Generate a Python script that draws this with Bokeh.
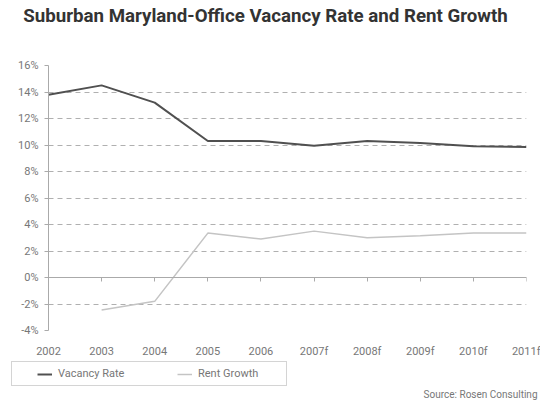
from bokeh.plotting import figure
from bokeh.layouts import column
from bokeh.models import (FixedTicker, LinearAxis, Legend, Label, Range1d, ColumnDataSource)
from bokeh.embed import file_html
from bokeh.resources import INLINE

# ---- data ----
years = ["2002", "2003", "2004", "2005", "2006", "2007f", "2008f", "2009f", "2010f", "2011f"]
vacancy_rate = [13.8, 14.5, 13.2, 10.3, 10.3, 9.95, 10.3, 10.15, 9.9, 9.85]
rent_growth = [float("nan"), -2.45, -1.8, 3.35, 2.9, 3.5, 3.0, 3.15, 3.35, 3.35]
y_ticks = [-4, -2, 0, 2, 4, 6, 8, 10, 12, 14, 16]
series_names = ["Vacancy Rate", "Rent Growth"]
series_colors = ["#505050", "#c4c4c4"]
series_widths = [2, 1.5]
title_text = "Suburban Maryland-Office Vacancy Rate and Rent Growth"
source_text = "Source: Rosen Consulting"

FONT = "Roboto"
W = 540
LEFT, RIGHT = 48, 14
idx = list(range(len(years)))
src = ColumnDataSource(dict(x=idx, vac=vacancy_rate, rent=rent_growth))


def blank_panel(h):
    # strip whose data coordinates equal page pixels (frame = whole strip)
    f = figure(width=W, height=h, output_backend="svg", toolbar_location=None,
               x_range=Range1d(0, W), y_range=Range1d(h, 0),
               x_axis_type=None, y_axis_type=None, frame_align=False,
               min_border_left=0, min_border_right=0,
               min_border_top=0, min_border_bottom=0)
    f.outline_line_color = None
    f.grid.visible = False
    return f


# ---- title strip ----
top = blank_panel(30)
top.add_layout(Label(x=265, y=15, text=title_text, text_align="center", text_baseline="middle",
                     text_font=FONT, text_font_size="18.7px", text_font_style="bold",
                     text_color="#333333"))

# ---- main chart ----
p = figure(width=W, height=330, output_backend="svg", toolbar_location=None,
           x_range=Range1d(0, len(years) - 1), y_range=Range1d(min(y_ticks), max(y_ticks)),
           min_border_left=LEFT, min_border_right=RIGHT, min_border_top=35, min_border_bottom=30)
p.outline_line_color = None

p.yaxis.ticker = FixedTicker(ticks=y_ticks)
p.yaxis.major_label_overrides = {t: f"{t}%" for t in y_ticks}
p.yaxis.major_label_text_font = FONT
p.yaxis.major_label_text_font_size = "11px"
p.yaxis.major_label_text_color = "#777777"
p.yaxis.axis_line_color = "#aaaaaa"
p.yaxis.major_tick_line_color = "#aaaaaa"
p.yaxis.major_tick_out = 4
p.yaxis.major_tick_in = 0
p.yaxis.minor_tick_line_color = None
p.yaxis.major_label_standoff = 6

p.xaxis.ticker = FixedTicker(ticks=idx)
p.xaxis.major_label_overrides = {i: y for i, y in zip(idx, years)}
p.xaxis.major_label_text_font = FONT
p.xaxis.major_label_text_font_size = "11px"
p.xaxis.major_label_text_color = "#777777"
p.xaxis.axis_line_color = None
p.xaxis.major_tick_line_color = None
p.xaxis.major_tick_out = 0
p.xaxis.major_tick_in = 0
p.xaxis.minor_tick_line_color = None
p.xaxis.major_label_standoff = 14

zero_axis = LinearAxis(fixed_location=0, ticker=FixedTicker(ticks=idx),
                       major_label_overrides={i: "" for i in idx},
                       major_label_text_color=None, major_tick_in=4, major_tick_out=0,
                       axis_line_color="#aaaaaa", major_tick_line_color="#aaaaaa",
                       minor_tick_line_color=None, major_label_standoff=0)
p.add_layout(zero_axis, "above")

p.xgrid.grid_line_color = None
p.ygrid.ticker = FixedTicker(ticks=y_ticks)
p.ygrid.grid_line_color = "#b0b0b0"
p.ygrid.grid_line_dash = "5 4"

p.line("x", "vac", source=src, line_color=series_colors[0], line_width=series_widths[0])
p.line("x", "rent", source=src, line_color=series_colors[1], line_width=series_widths[1])

# ---- legend + source strip ----
bot = blank_panel(44)
nan = float("nan")
dummies = [bot.line(x=[nan], y=[nan], line_color=c, line_width=w)
           for c, w in zip(series_colors, series_widths)]
legend = Legend(items=[(n, [r]) for n, r in zip(series_names, dummies)],
                orientation="horizontal", location=(11, 18), margin=0,
                title=" ", title_location="left", title_standoff=15,
                title_text_font_size="4px",
                padding=5, spacing=36, label_width=83, label_height=12,
                glyph_height=12, glyph_width=15, label_standoff=6,
                label_text_font=FONT, label_text_font_size="11px", label_text_color="#777777",
                border_line_color="#aaaaaa", border_line_width=1,
                background_fill_alpha=0)
bot.add_layout(legend, "center")
bot.add_layout(Label(x=537, y=34, text=source_text, text_align="right", text_baseline="middle",
                     text_font=FONT, text_font_size="10px", text_color="#777777"))

layout = column(top, p, bot, spacing=0)
open("out.html", "w").write(file_html(layout, INLINE))
